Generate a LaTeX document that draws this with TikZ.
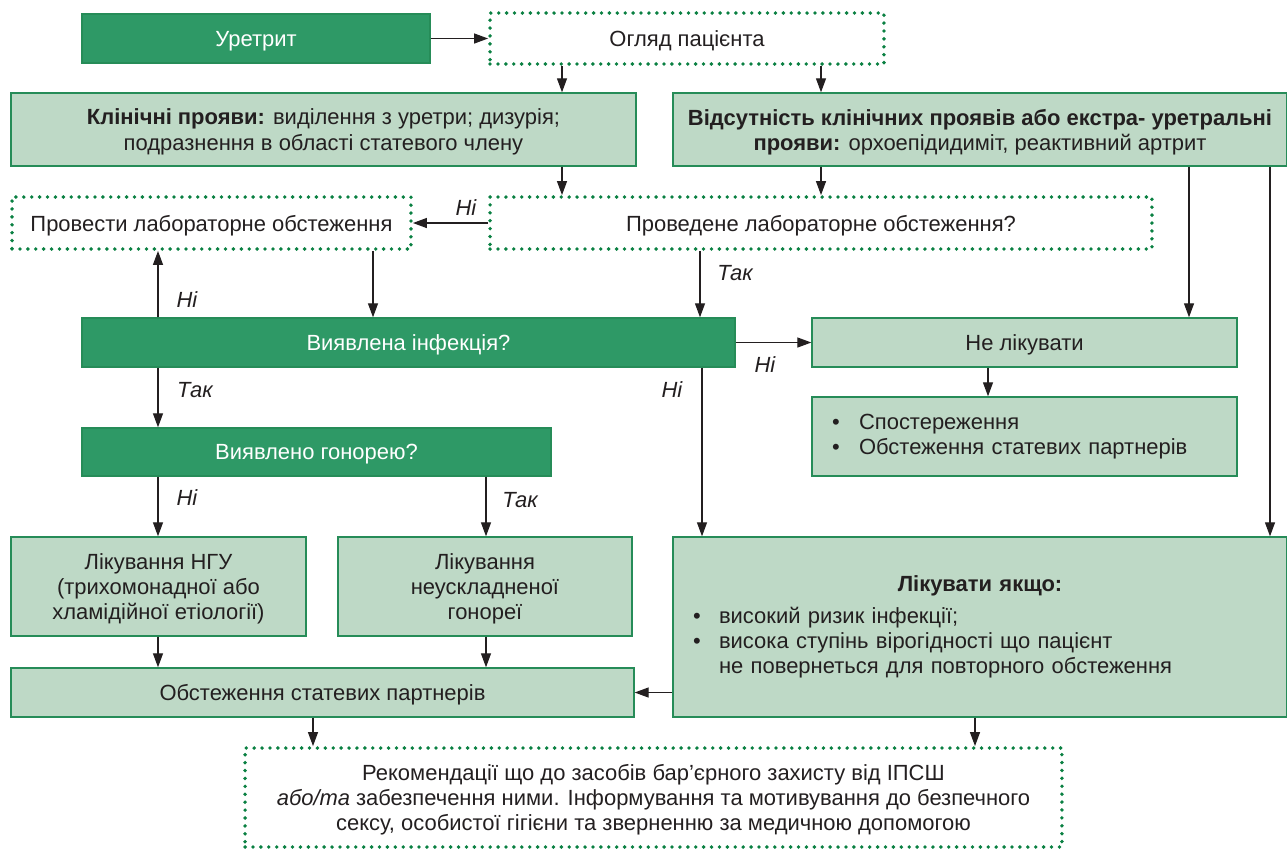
\documentclass[tikz,border=0pt]{standalone}
\usepackage{fontspec}
\setmainfont{Liberation Sans}
\usepackage{xcolor}
\usetikzlibrary{arrows.meta}
\definecolor{dkgreen}{RGB}{46,153,102}
\definecolor{ltgreen}{RGB}{190,217,198}
\definecolor{edgegreen}{RGB}{38,140,88}
\definecolor{dotgreen}{RGB}{10,128,66}
\definecolor{ink}{RGB}{35,31,32}
\begin{document}
\begin{tikzpicture}[x=0.02cm,y=-0.02cm,
  every node/.style={font=\fontsize{12.5}{14.3}\selectfont,text=ink},
  dkbox/.style={draw=edgegreen,fill=dkgreen,text=white,line width=0.8pt,inner sep=0pt,text depth=0pt,align=center},
  ltbox/.style={draw=edgegreen,fill=ltgreen,line width=0.8pt,inner sep=0pt,text depth=0pt,align=center},
  dotbox/.style={draw=dotgreen,line width=2.2pt,dash pattern=on 0pt off 4.5pt,line cap=round,inner sep=0pt,text depth=0pt,align=center},
  lst/.style={draw=edgegreen,fill=ltgreen,line width=0.8pt,inner ysep=0pt,inner xsep=0.4cm,align=left},
  ans/.style={font=\itshape\fontsize{12.5}{14.3}\selectfont},
  arr/.style={-{Triangle[length=2.8mm,width=2mm]},line width=0.7pt,ink}]
 \useasboundingbox (0,0) rectangle (1287,850);
 \node[dkbox,minimum width=6.96cm,minimum height=0.98cm] (uretryt) at (256,38.5) {Уретрит};
 \node[dotbox,minimum width=7.88cm,minimum height=1.02cm] (ohliad) at (687,38.5) {Огляд пацієнта};
 \node[ltbox,minimum width=12.5cm,minimum height=1.46cm] (klin) at (323.5,129.5)
   {\textbf{Клінічні прояви:} виділення з уретри; дизурія;\\подразнення в області статевого члену};
 \node[ltbox,minimum width=12.28cm,minimum height=1.46cm] (vids) at (980,129.5)
   {\textbf{Відсутність клінічних проявів або екстра- уретральні}\\\textbf{прояви:} орхоепідидиміт, реактивний артрит};
 \node[dotbox,minimum width=7.98cm,minimum height=1.04cm] (provesty) at (211.5,223) {Провести лабораторне обстеження};
 \node[dotbox,minimum width=13.24cm,minimum height=1.04cm] (proved) at (821,223) {Проведене лабораторне обстеження?};
 \node[dkbox,minimum width=13.06cm,minimum height=0.98cm] (vyiav) at (408.5,342.5) {Виявлена інфекція?};
 \node[ltbox,minimum width=8.5cm,minimum height=0.98cm] (nelik) at (1024.5,342.5) {Не лікувати};
 \node[lst,text width=7.7cm,minimum height=1.58cm] (spost) at (1024.5,436.5)
   {\makebox[0.54cm][l]{\textbullet}Спостереження\\
    \makebox[0.54cm][l]{\textbullet}Обстеження статевих партнерів};
 \node[dkbox,minimum width=9.38cm,minimum height=0.96cm] (honor) at (316.5,452) {Виявлено гонорею?};
 \node[ltbox,minimum width=5.9cm,minimum height=1.98cm] (nhu) at (158.5,586.5)
   {Лікування НГУ\\(трихомонадної або\\хламідійної етіології)};
 \node[ltbox,minimum width=5.88cm,minimum height=1.98cm] (neusk) at (485,586.5)
   {Лікування\\неускладненої\\гонореї};
 \node[lst,text width=11.48cm,minimum height=3.6cm] (likyak) at (980,627)
   {\makebox[\linewidth]{\textbf{Лікувати якщо:}}\\[4pt]
    \makebox[0.52cm][l]{\textbullet}високий ризик інфекції;\\
    \makebox[0.52cm][l]{\textbullet}висока ступінь вірогідності що пацієнт\\
    \hspace*{0.52cm}не повернеться для повторного обстеження};
 \node[ltbox,minimum width=12.46cm,minimum height=0.98cm] (obst) at (322.5,692.5) {Обстеження статевих партнерів};
 \node[dotbox,minimum width=16.34cm,minimum height=1.98cm] (rekom) at (653.5,797.5)
   {Рекомендації що до засобів бар’єрного захисту від ІПСШ\\
    \textit{або/та} забезпечення ними. Інформування та мотивування до безпечного\\
    сексу, особистої гігієни та зверненню за медичною допомогою};
 \node[ans] (ni1) at (466,208) {Ні};
 \node[ans] (tak1) at (735,273) {Так};
 \node[ans] (ni2) at (187,300) {Ні};
 \node[ans] (ni3) at (765,365) {Ні};
 \node[ans] (ni4) at (672,390) {Ні};
 \node[ans] (tak2) at (195,390) {Так};
 \node[ans] (ni5) at (187,498) {Ні};
 \node[ans] (tak3) at (520,500) {Так};
 \draw[arr] (uretryt) -- (ohliad);
 \draw[arr] (ohliad.south -| 562,0) -- (klin.north -| 562,0);
 \draw[arr] (ohliad.south -| 821,0) -- (vids.north -| 821,0);
 \draw[arr] (klin.south -| 562,0) -- (proved.north -| 562,0);
 \draw[arr] (vids.south -| 821,0) -- (proved.north -| 821,0);
 \draw[arr] (proved.west) -- (provesty.east);
 \draw[arr] (proved.south -| 700,0) -- (vyiav.north -| 700,0);
 \draw[arr] (provesty.south -| 373,0) -- (vyiav.north -| 373,0);
 \draw[arr] (vyiav.north -| 158,0) -- (provesty.south -| 158,0);
 \draw[arr] (vyiav.east) -- (nelik.west);
 \draw[arr] (vids.south -| 1189,0) -- (nelik.north -| 1189,0);
 \draw[arr] (vids.south -| 1270,0) -- (likyak.north -| 1270,0);
 \draw[arr] (vyiav.south -| 702,0) -- (likyak.north -| 702,0);
 \draw[arr] (vyiav.south -| 158,0) -- (honor.north -| 158,0);
 \draw[arr] (nelik.south -| 988,0) -- (spost.north -| 988,0);
 \draw[arr] (honor.south -| 158,0) -- (nhu.north -| 158,0);
 \draw[arr] (honor.south -| 486,0) -- (neusk.north -| 486,0);
 \draw[arr] (nhu.south -| 158,0) -- (obst.north -| 158,0);
 \draw[arr] (neusk.south -| 486,0) -- (obst.north -| 486,0);
 \draw[arr] (likyak.west |- obst.east) -- (obst.east);
 \draw[arr] (obst.south -| 313,0) -- (rekom.north -| 313,0);
 \draw[arr] (likyak.south -| 975,0) -- (rekom.north -| 975,0);
\end{tikzpicture}
\end{document}
